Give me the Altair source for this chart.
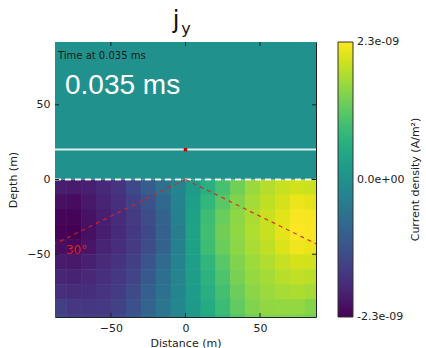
import altair as alt
import pandas as pd

# Horizontal cell centres (m) and depth-row centres (m) of the subsurface grid
x_centers = [-85, -75, -65, -55, -45, -35, -25, -15, -5, 5, 15, 25, 35, 45, 55, 65, 75, 85]
depth_rows = [-5, -15, -25, -35, -45, -55, -65, -75, -85, -95]

# j_y in units of 1e-9 A/m^2, one row per depth, one value per x centre
jy_rows = [
    [-1.94, -1.98, -1.91, -1.79, -1.61, -1.32, -0.96, -0.59, -0.22, 0.22, 0.59, 0.96, 1.32, 1.61, 1.79, 1.91, 1.98, 1.94],
    [-2.12, -2.17, -2.01, -1.86, -1.68, -1.43, -1.12, -0.74, -0.28, 0.28, 0.74, 1.12, 1.43, 1.68, 1.86, 2.01, 2.17, 2.12],
    [-2.24, -2.26, -2.10, -1.92, -1.73, -1.52, -1.25, -0.86, -0.33, 0.33, 0.86, 1.25, 1.52, 1.73, 1.92, 2.10, 2.26, 2.24],
    [-2.26, -2.30, -2.12, -1.92, -1.75, -1.55, -1.30, -0.90, -0.35, 0.35, 0.90, 1.30, 1.55, 1.75, 1.92, 2.12, 2.30, 2.26],
    [-2.15, -2.19, -2.06, -1.86, -1.72, -1.52, -1.26, -0.86, -0.33, 0.33, 0.86, 1.26, 1.52, 1.72, 1.86, 2.06, 2.19, 2.15],
    [-1.97, -2.01, -1.91, -1.77, -1.63, -1.44, -1.11, -0.72, -0.28, 0.28, 0.72, 1.11, 1.44, 1.63, 1.77, 1.91, 2.01, 1.97],
    [-1.83, -1.87, -1.80, -1.69, -1.58, -1.38, -1.01, -0.65, -0.25, 0.25, 0.65, 1.01, 1.38, 1.58, 1.69, 1.80, 1.87, 1.83],
    [-1.68, -1.74, -1.70, -1.62, -1.50, -1.27, -0.93, -0.58, -0.22, 0.22, 0.58, 0.93, 1.27, 1.50, 1.62, 1.70, 1.74, 1.68],
    [-1.45, -1.57, -1.57, -1.55, -1.42, -1.18, -0.84, -0.51, -0.20, 0.20, 0.51, 0.84, 1.18, 1.42, 1.55, 1.57, 1.57, 1.45],
    [-1.34, -1.44, -1.46, -1.46, -1.33, -1.08, -0.76, -0.46, -0.18, 0.18, 0.46, 0.76, 1.08, 1.33, 1.46, 1.46, 1.44, 1.34],
]
cell_size = 10
cell_overlap = 0.4  # slight overlap hides antialiasing seams between cells

# Air above the surface carries no current
air_jy = 0.0

# Axis ticks and colorbar ticks
x_ticks = [-50, 0, 50]
y_ticks = [-50, 0, 50]
cbar_ticks = [-2.3, 0.0, 2.3]
cbar_labels = ["-2.3e-09", "0.0e+00", "2.3e-09"]

# Geometry overlays
x_extent = [-87.5, 87.5]
y_extent = [-92, 92]
surface_depth = 0
receiver_height = 20
ray_x = [-87.5, 87.5]
ray_y_end = [-43, -43]
angle_label = "30°"
angle_label_pos = (-73, -47.5)
time_label = "0.035 ms"

W, H = 261, 275

rows = []
for yc, row in zip(depth_rows, jy_rows):
    for xc, v in zip(x_centers, row):
        half = cell_size / 2
        rows.append({"x0": xc - half, "x1": xc + half + cell_overlap,
                     "y0": yc - half - cell_overlap, "y1": yc + half, "jy": v})
rows.append({"x0": x_extent[0], "x1": x_extent[1], "y0": surface_depth,
             "y1": y_extent[1], "jy": air_jy})
field = pd.DataFrame(rows)

xs = alt.Scale(domain=x_extent, nice=False, zero=False)
ys = alt.Scale(domain=y_extent, nice=False, zero=False)
cs = alt.Scale(scheme="viridis", domain=[cbar_ticks[0], cbar_ticks[-1]])

heat = alt.Chart(field).mark_rect(clip=True, strokeWidth=0).encode(
    x=alt.X("x0:Q", scale=xs,
            axis=alt.Axis(values=x_ticks, title="Distance (m)", ticks=False, domain=False,
                          grid=False, labelPadding=5, titlePadding=4)),
    x2="x1:Q",
    y=alt.Y("y0:Q", scale=ys,
            axis=alt.Axis(values=y_ticks, title="Depth (m)", ticks=False, domain=False,
                          grid=False, labelPadding=5, titlePadding=8)),
    y2="y1:Q",
    color=alt.Color("jy:Q", scale=cs,
                    legend=alt.Legend(type="gradient", title=None, orient="right", offset=22,
                                      padding=0, direction="vertical", gradientLength=H,
                                      gradientThickness=15, values=cbar_ticks,
                                      labelExpr="''", labelOffset=0,
                                      gradientStrokeColor="#333",
                                      gradientStrokeWidth=1)),
)

# Colorbar tick labels, placed along the bar (the bar spans the full plot height)
cbar_df = pd.DataFrame({
    "v": cbar_ticks,
    "lab": cbar_labels,
})
cbar_df["ypos"] = y_extent[0] + (cbar_df["v"] - cbar_ticks[0]) / (cbar_ticks[-1] - cbar_ticks[0]) * (y_extent[1] - y_extent[0])
cbar_text = alt.Chart(cbar_df).mark_text(
    fontSize=11, color="#222", align="left", baseline="middle"
).encode(x=alt.value(302), y=alt.Y("ypos:Q", scale=ys), text="lab:N")

surface = alt.Chart(pd.DataFrame({"x": [x_extent[0]], "x2": [x_extent[1]], "y": [surface_depth]})).mark_rule(
    color="white", strokeWidth=2, strokeDash=[6, 4], opacity=0.9
).encode(x=alt.X("x:Q", scale=xs), x2="x2:Q", y=alt.Y("y:Q", scale=ys))

receiver = alt.Chart(pd.DataFrame({"x": [x_extent[0]], "x2": [x_extent[1]], "y": [receiver_height]})).mark_rule(
    color="white", strokeWidth=2, opacity=0.85
).encode(x=alt.X("x:Q", scale=xs), x2="x2:Q", y=alt.Y("y:Q", scale=ys))

rays = alt.Chart(pd.DataFrame({"x": [0, 0], "y": [surface_depth, surface_depth],
                               "x2": ray_x, "y2": ray_y_end})).mark_rule(
    color="#e0201c", strokeWidth=1.3, strokeDash=[4, 4], opacity=0.85, clip=True
).encode(x=alt.X("x:Q", scale=xs), y=alt.Y("y:Q", scale=ys), x2="x2:Q", y2="y2:Q")

source = alt.Chart(pd.DataFrame({"x": [0], "y": [receiver_height]})).mark_square(
    color="#cc0000", size=12, opacity=1
).encode(x=alt.X("x:Q", scale=xs), y=alt.Y("y:Q", scale=ys))

angle_text = alt.Chart(pd.DataFrame({"x": [angle_label_pos[0]], "y": [angle_label_pos[1]], "t": [angle_label]})).mark_text(
    color="#e0201c", fontSize=12, align="center", baseline="middle"
).encode(x=alt.X("x:Q", scale=xs), y=alt.Y("y:Q", scale=ys), text="t:N")

time_small = alt.Chart(pd.DataFrame({"x": [-85.5], "y": [80.6], "t": ["Time at " + time_label]})).mark_text(
    color="#1a1a1a", fontSize=10, align="left", baseline="alphabetic"
).encode(x=alt.X("x:Q", scale=xs), y=alt.Y("y:Q", scale=ys), text="t:N")

time_big = alt.Chart(pd.DataFrame({"x": [-80.8], "y": [57.2], "t": [time_label]})).mark_text(
    color="white", fontSize=28, font="Liberation Sans", align="left", baseline="alphabetic"
).encode(x=alt.X("x:Q", scale=xs), y=alt.Y("y:Q", scale=ys), text="t:N")

# Inward-facing tick marks on all four sides of the frame
xt = pd.DataFrame({"t": x_ticks})
yt = pd.DataFrame({"t": y_ticks})
tick_style = dict(color="#222", strokeWidth=1)
ticks = [
    alt.Chart(xt).mark_rule(**tick_style).encode(x=alt.X("t:Q", scale=xs), y=alt.value(H), y2=alt.value(H - 4)),
    alt.Chart(xt).mark_rule(**tick_style).encode(x=alt.X("t:Q", scale=xs), y=alt.value(0), y2=alt.value(4)),
    alt.Chart(yt).mark_rule(**tick_style).encode(y=alt.Y("t:Q", scale=ys), x=alt.value(0), x2=alt.value(4)),
    alt.Chart(yt).mark_rule(**tick_style).encode(y=alt.Y("t:Q", scale=ys), x=alt.value(W), x2=alt.value(W - 4)),
]

title_j = alt.Chart(pd.DataFrame({"t": ["j"]})).mark_text(
    fontSize=24, color="#111", align="center", baseline="alphabetic"
).encode(x=alt.value(121), y=alt.value(-14), text="t:N")
title_sub = alt.Chart(pd.DataFrame({"t": ["y"]})).mark_text(
    fontSize=16, color="#111", align="center", baseline="alphabetic"
).encode(x=alt.value(131), y=alt.value(-8), text="t:N")

cbar_title = alt.Chart(pd.DataFrame({"t": ["Current density (A/m²)"]})).mark_text(
    fontSize=11, color="#222", angle=270, align="center", baseline="middle"
).encode(x=alt.value(361), y=alt.value(H / 2), text="t:N")

chart = alt.layer(
    heat, surface, receiver, rays, source, angle_text, time_small, time_big,
    *ticks, title_j, title_sub, cbar_text, cbar_title
).properties(
    width=W, height=H,
    padding={"left": 55, "top": 42, "right": 110, "bottom": 31},
    autosize=alt.AutoSizeParams(type="none"),
).configure(
    font="DejaVu Sans"
).configure_view(
    stroke="#222", strokeWidth=1
).configure_axis(
    labelFontSize=11, titleFontSize=11, titleFontWeight="normal",
    labelColor="#222", titleColor="#222"
)

chart.save("out.html", embed_options={"renderer": "svg", "actions": False})
